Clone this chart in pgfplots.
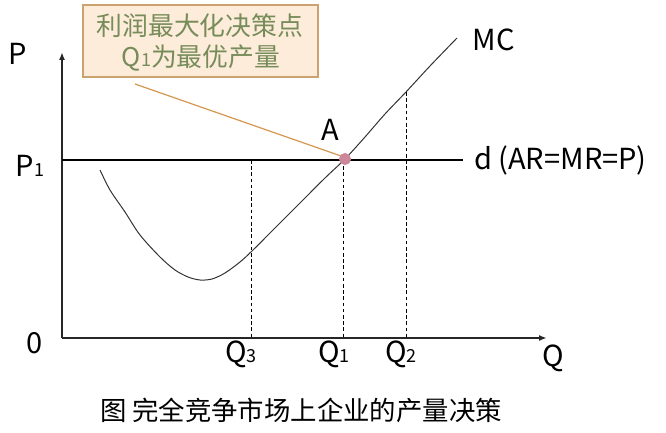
\documentclass[border=0pt]{standalone}
\usepackage{fontspec}
\setmainfont{Noto Sans CJK SC}
\usepackage{pgfplots}
\pgfplotsset{compat=1.18}
\usetikzlibrary{arrows.meta}
\definecolor{boxfill}{RGB}{253,236,217}
\definecolor{boxdraw}{RGB}{204,163,112}
\definecolor{boxtext}{RGB}{118,140,90}
\definecolor{leader}{RGB}{214,150,78}
\definecolor{dotA}{RGB}{205,135,155}
\newcommand{\fs}[1]{\fontsize{#1}{#1}\selectfont}
\begin{document}
\begin{tikzpicture}
\begin{axis}[scale only axis, width=333pt, height=216.5pt,
  xmin=0, xmax=666, ymin=0, ymax=433, y dir=reverse,
  hide axis, clip=false]
\addplot[draw=none, forget plot] coordinates {(0,0) (666,433)};
% annotation box
\draw[boxdraw, fill=boxfill, line width=0.6pt] (83,5) rectangle (318,77);
\node[text=boxtext, font=\fs{12.9}] at (200,26) {利润最大化决策点};
\node[text=boxtext, font=\fs{12.9}] at (201,58) {Q{\fs{9}1}为最优产量};
% leader line
\addplot[leader, line width=0.6pt] coordinates {(135,84) (341,156)};
% axes
\addplot[black!85, line width=0.8pt, -{Latex[length=4pt,width=3pt]}] coordinates {(62,338) (62,52)};
\addplot[black!85, line width=0.8pt, -{Latex[length=4pt,width=3pt]}] coordinates {(62,338) (547,338)};
% demand line
\addplot[black, line width=0.6pt] coordinates {(62,160) (463,160)};
% dashed guides
\addplot[black, line width=0.5pt, dash pattern=on 1.8pt off 1.3pt] coordinates {(251,160) (251,338)};
\addplot[black, line width=0.5pt, dash pattern=on 1.8pt off 1.3pt] coordinates {(343,160) (343,338)};
\addplot[black, line width=0.5pt, dash pattern=on 1.8pt off 1.3pt] coordinates {(406,92) (406,338)};
% MC curve
\addplot[black!80, line width=0.5pt, smooth, tension=0.5] coordinates {
 (100,170) (110,190) (125,212) (140,235) (160,257) (175,270) (188,277) (200,280)
 (212,279) (225,273) (240,262) (252,251) (275,228) (300,203) (325,178) (345,159)
 (365,137) (385,114) (406,92) (430,66) (457,38)};
% point A
\addplot[only marks, mark=*, mark size=2.8pt, mark options={fill=dotA, draw=dotA}] coordinates {(345,159)};
% labels
\node[font=\fs{14.5}] at (18,54) {P};
\node[font=\fs{14.5}] at (30,166) {P{\fs{9}1}};
\node[font=\fs{14.5}] at (35,343) {0};
\node[font=\fs{14.5}] at (330,130) {A};
\node[font=\fs{14.5}] at (494,40) {MC};
\node[font=\fs{14.5}, anchor=west] at (467,160) {d (AR=MR=P)};
\node[font=\fs{14.5}] at (241,354) {Q{\fs{9}3}};
\node[font=\fs{14.5}] at (334,354) {Q{\fs{9}1}};
\node[font=\fs{14.5}] at (401,354) {Q{\fs{9}2}};
\node[font=\fs{14.5}] at (553,358) {Q};
\node[font=\fs{13.2}] at (301,410) {图 完全竞争市场上企业的产量决策};
\end{axis}
\end{tikzpicture}
\end{document}
